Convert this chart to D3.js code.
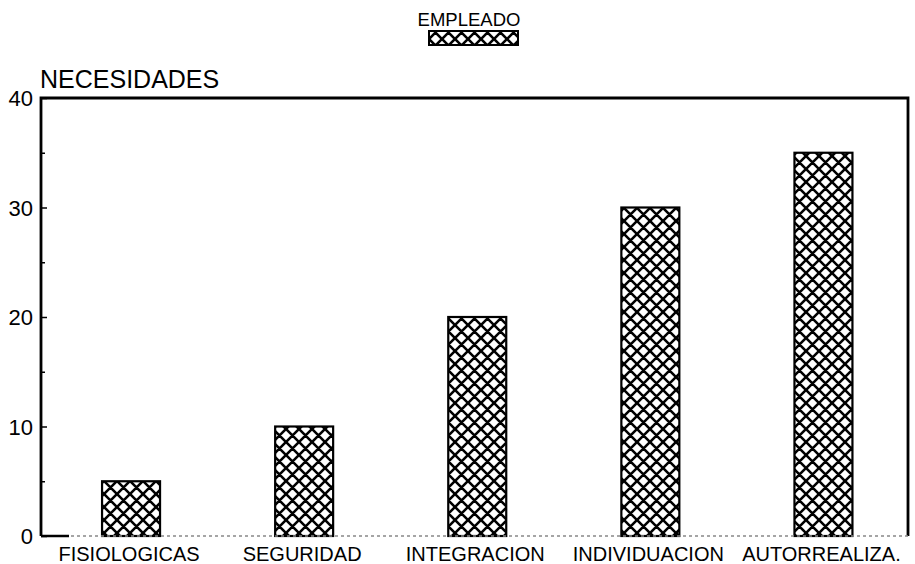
<!DOCTYPE html>
<html><head><meta charset="utf-8">
<script src="https://cdn.jsdelivr.net/npm/d3@7"></script>
<style>body{margin:0;background:#fff}svg{display:block}text{font-family:"Liberation Sans",Arial,sans-serif;fill:#000}</style>
</head><body><svg id="c" width="915" height="564"></svg>
<script>
const categories = ["FISIOLOGICAS","SEGURIDAD","INTEGRACION","INDIVIDUACION","AUTORREALIZA."];
const values = [5,10,20,30,35];
const yTicks = [0,10,20,30,40];
const yMinorTicks = [5,15,25,35];
const seriesName = "EMPLEADO";
const yTitle = "NECESIDADES";

const svg = d3.select("#c");
const L=41, R=908, T=98, B=536;
const x = d3.scaleBand().domain(categories).range([44.5,910]).paddingInner(0.665).paddingOuter(0.3325);
const y = d3.scaleLinear().domain([0,40]).range([B,T]);

const defs = svg.append("defs");
const s = 13;
const p = defs.append("pattern").attr("id","hatch").attr("patternUnits","userSpaceOnUse")
  .attr("width",s).attr("height",s);
p.append("rect").attr("width",s).attr("height",s).attr("fill","#fff");
p.append("path").attr("d",`M-3,3 L3,-3 M0,${s} L${s},0 M${s-3},${s+3} L${s+3},${s-3} M-3,${s-3} L3,${s+3} M0,0 L${s},${s} M${s-3},-3 L${s+3},3`)
  .attr("stroke","#000").attr("stroke-width",2.6);

// legend
svg.append("text").attr("x",469).attr("y",26).attr("text-anchor","middle").attr("font-size",18.5).text(seriesName);
svg.append("rect").attr("x",429).attr("y",31).attr("width",89).attr("height",14)
  .attr("fill","url(#hatch)").attr("stroke","#000").attr("stroke-width",2);

// y title
svg.append("text").attr("x",40).attr("y",88).attr("font-size",25).text(yTitle);

// bars
svg.selectAll(".bar").data(values).join("rect")
  .attr("x",(d,i)=>x(categories[i])).attr("width",x.bandwidth())
  .attr("y",d=>y(d)).attr("height",d=>B-y(d))
  .attr("fill","url(#hatch)").attr("stroke","#000").attr("stroke-width",2.2);

// frame
svg.append("path").attr("d",`M${L},${B} L${L},${T} L${R},${T} L${R},${B}`)
  .attr("fill","none").attr("stroke","#000").attr("stroke-width",2.8);
svg.append("line").attr("x1",L).attr("x2",R).attr("y1",B).attr("y2",B)
  .attr("stroke","#888").attr("stroke-width",1.5).attr("stroke-dasharray","3,3");
svg.append("line").attr("x1",L).attr("x2",L+28).attr("y1",B).attr("y2",B)
  .attr("stroke","#000").attr("stroke-width",2.5);

// y axis
const yAxis = d3.axisLeft(y).tickValues(yTicks).tickSize(-6).tickPadding(8).tickFormat(d3.format("d"));
const ga = svg.append("g").attr("transform",`translate(${L},0)`).call(yAxis);
ga.select(".domain").remove();
ga.selectAll(".tick line").attr("stroke-width",1.5);
ga.selectAll(".tick text").attr("font-size",22).attr("font-family","Liberation Sans, Arial, sans-serif").attr("fill","#000").attr("dy","0.35em");
const gm = svg.append("g").attr("transform",`translate(${L},0)`).call(d3.axisLeft(y).tickValues(yMinorTicks).tickSize(-4).tickFormat(""));
gm.select(".domain").remove();
gm.selectAll(".tick line").attr("stroke-width",1.5);

// x labels
svg.selectAll(".xl").data(categories).join("text")
  .attr("x",d=>x(d)+x.bandwidth()/2-2).attr("y",561).attr("text-anchor","middle")
  .attr("font-size",20).text(d=>d);
</script></body></html>
